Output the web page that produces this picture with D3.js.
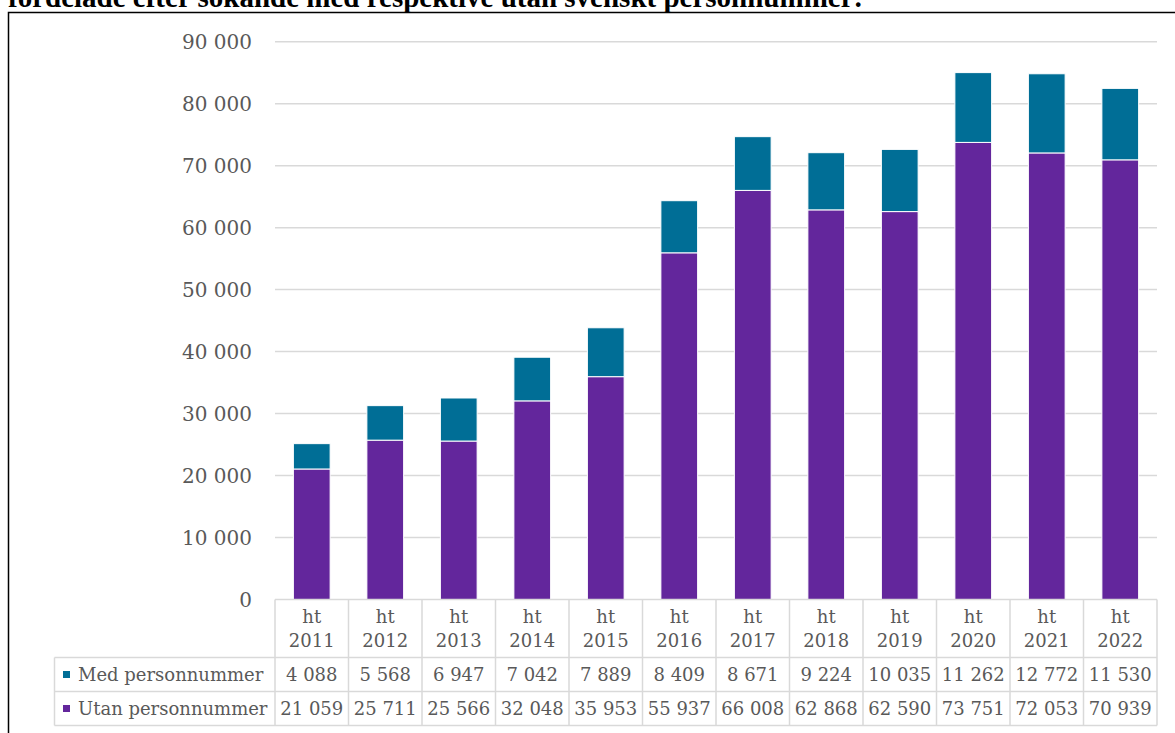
<!DOCTYPE html>
<html>
<head>
<meta charset="utf-8">
<script src="https://cdn.jsdelivr.net/npm/d3@7"></script>
<style>
  body { margin: 0; background: #fff; }
  svg { display: block; }
</style>
</head>
<body>
<div id="chart"></div>
<script>
var periods = ["2011", "2012", "2013", "2014", "2015", "2016", "2017", "2018", "2019", "2020", "2021", "2022"];
var medPnr = [4088, 5568, 6947, 7042, 7889, 8409, 8671, 9224, 10035, 11262, 12772, 11530];
var utanPnr = [21059, 25711, 25566, 32048, 35953, 55937, 66008, 62868, 62590, 73751, 72053, 70939];
var yTicks = [0, 10000, 20000, 30000, 40000, 50000, 60000, 70000, 80000, 90000];
var seriesNames = ["Med personnummer", "Utan personnummer"];
var titleText = "fördelade efter sökande med respektive utan svenskt personnummer:";

var W = 1175, H = 733;
var colors = { med: "#006e96", utan: "#63269c" };
var gridColor = "#d9d9d9";
var textColor = "#595959";
var font = "'DejaVu Serif', serif";

var svg = d3.select("#chart").append("svg")
  .attr("width", W)
  .attr("height", H);

// cut-off title and frame
svg.append("text")
  .attr("x", 8)
  .attr("y", 7)
  .attr("font-family", "'Liberation Serif', serif")
  .attr("font-weight", "bold")
  .attr("font-size", 29)
  .attr("fill", "#000")
  .text(titleText);

svg.append("path")
  .attr("d", "M8.5," + H + "V12.5H" + W)
  .attr("fill", "none")
  .attr("stroke", "#000")
  .attr("stroke-width", 1.5);

var plotLeft = 275, plotRight = 1157;
var x = d3.scaleBand()
  .domain(periods)
  .range([plotLeft, plotRight]);

var y = d3.scaleLinear()
  .domain([0, 90000])
  .range([599.5, 41.7]);

var fmt = function (v) { return d3.format(",")(v).replace(/,/g, " "); };

// gridlines
svg.append("g")
  .selectAll("line")
  .data(yTicks.slice(1))
  .enter().append("line")
  .attr("x1", plotLeft)
  .attr("x2", plotRight)
  .attr("y1", function (d) { return y(d); })
  .attr("y2", function (d) { return y(d); })
  .attr("stroke", gridColor)
  .attr("stroke-width", 1.5);

// y labels
var yAxis = d3.axisLeft(y)
  .tickValues(yTicks)
  .tickFormat(fmt)
  .tickSize(0)
  .tickPadding(0);

var yg = svg.append("g")
  .attr("transform", "translate(252,0)")
  .call(yAxis);
yg.select(".domain").remove();
yg.selectAll("text")
  .attr("font-family", font)
  .attr("font-size", 20)
  .attr("fill", textColor)
  .attr("dy", "0.35em");

// stacked bars
var barW = x.bandwidth() * 0.5;
var bars = svg.append("g");
periods.forEach(function (p, i) {
  var bx = x(p) + (x.bandwidth() - barW) / 2;
  bars.append("rect")
    .attr("x", bx)
    .attr("width", barW)
    .attr("y", y(utanPnr[i]))
    .attr("height", y(0) - y(utanPnr[i]))
    .attr("fill", colors.utan)
    .attr("stroke", "#fff")
    .attr("stroke-width", 1);
  bars.append("rect")
    .attr("x", bx)
    .attr("width", barW)
    .attr("y", y(utanPnr[i] + medPnr[i]))
    .attr("height", y(utanPnr[i]) - y(utanPnr[i] + medPnr[i]))
    .attr("fill", colors.med)
    .attr("stroke", "#fff")
    .attr("stroke-width", 1);
});

// data table
var tableTop = 599.5, headBottom = 657.5, row1Bottom = 691.5, row2Bottom = 725.5, tableLeft = 54.5;
var tbl = svg.append("g")
  .attr("stroke", gridColor)
  .attr("stroke-width", 1.5)
  .attr("fill", "none");

tbl.append("line").attr("x1", plotLeft).attr("x2", plotRight).attr("y1", tableTop).attr("y2", tableTop);
[headBottom, row1Bottom, row2Bottom].forEach(function (yy) {
  tbl.append("line").attr("x1", tableLeft).attr("x2", plotRight).attr("y1", yy).attr("y2", yy);
});
tbl.append("line").attr("x1", tableLeft).attr("x2", tableLeft).attr("y1", headBottom).attr("y2", row2Bottom);
periods.forEach(function (p) {
  tbl.append("line").attr("x1", x(p)).attr("x2", x(p)).attr("y1", tableTop).attr("y2", row2Bottom);
});
tbl.append("line").attr("x1", plotRight).attr("x2", plotRight).attr("y1", tableTop).attr("y2", row2Bottom);

var tblSize = 18;
var txt = svg.append("g")
  .attr("font-family", font)
  .attr("font-size", tblSize)
  .attr("fill", textColor)
  .attr("text-anchor", "middle");

periods.forEach(function (p, i) {
  var cx = x(p) + x.bandwidth() / 2;
  txt.append("text").attr("x", cx).attr("y", 617).attr("dy", "0.35em").text("ht");
  txt.append("text").attr("x", cx).attr("y", 641).attr("dy", "0.35em").text(p);
  txt.append("text").attr("x", cx).attr("y", 674.5).attr("dy", "0.35em").text(fmt(medPnr[i]));
  txt.append("text").attr("x", cx).attr("y", 708.5).attr("dy", "0.35em").text(fmt(utanPnr[i]));
});

// row headers with legend keys
var rowY = [674.5, 708.5];
var rowColors = [colors.med, colors.utan];
seriesNames.forEach(function (s, i) {
  svg.append("rect")
    .attr("x", 63)
    .attr("y", rowY[i] - 3.5)
    .attr("width", 7)
    .attr("height", 7)
    .attr("fill", rowColors[i]);
  svg.append("text")
    .attr("x", 78)
    .attr("y", rowY[i])
    .attr("dy", "0.35em")
    .attr("font-family", font)
    .attr("font-size", tblSize)
    .attr("fill", textColor)
    .text(s);
});
</script>
</body>
</html>
